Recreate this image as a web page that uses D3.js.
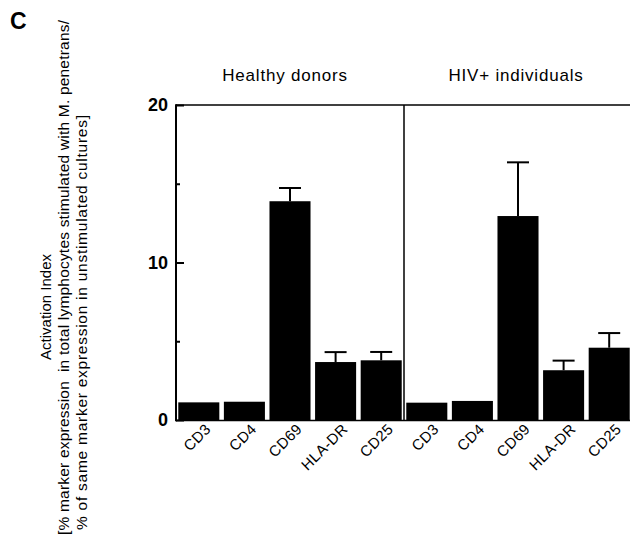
<!DOCTYPE html>
<html>
<head>
<meta charset="utf-8">
<script src="https://cdn.jsdelivr.net/npm/d3@7/dist/d3.min.js"></script>
<style>
  html, body { margin: 0; padding: 0; background: #fff; }
  svg { display: block; }
  text { font-family: "Liberation Sans", Arial, Helvetica, sans-serif; fill: #000; }
</style>
</head>
<body>
<svg id="chart" width="630" height="544"></svg>
<script>
// ---- data ----
const groups = ["Healthy donors", "HIV+ individuals"];
const markers = ["CD3", "CD4", "CD69", "HLA-DR", "CD25"];
const healthyValues = [1.12, 1.16, 13.89, 3.68, 3.79];
const healthyErrors = [0, 0, 0.84, 0.63, 0.53];
const hivValues = [1.10, 1.21, 12.95, 3.16, 4.59];
const hivErrors = [0, 0, 3.41, 0.61, 0.93];
const yTicksMajor = [0, 10, 20];
const yTicksMinor = [5, 15];
const yTitleLines = [
  "Activation Index",
  "[% marker expression  in total lymphocytes stimulated with M. penetrans/",
  " % of same marker expression in unstimulated cultures]"
];
const panelLetter = "C";

const seriesByGroup = [
  { group: groups[0], values: healthyValues, errors: healthyErrors },
  { group: groups[1], values: hivValues, errors: hivErrors }
];

// ---- layout ----
const svg = d3.select("#chart");
const plotLeft = 176, plotRight = 632, plotTop = 105, plotBottom = 420;

const y = d3.scaleLinear().domain([0, 20]).range([plotBottom, plotTop]);
const xGroup = d3.scaleBand().domain(groups).range([plotLeft, plotRight]).padding(0);
const xInner = d3.scaleBand().domain(markers).range([0, xGroup.bandwidth()])
  .paddingInner(0.1).paddingOuter(0.05);

// panel letter
svg.append("text").attr("x", 10).attr("y", 28.5)
  .attr("font-size", 23).attr("font-weight", "bold").text(panelLetter);

// group titles
svg.selectAll(".gtitle").data(groups).join("text")
  .attr("class", "gtitle")
  .attr("x", (d, i) => xGroup(d) + xGroup.bandwidth() / 2 - (i === 0 ? 5 : 2))
  .attr("y", 81)
  .attr("text-anchor", "middle")
  .attr("font-size", 17)
  .attr("letter-spacing", "0.8px")
  .text(d => d);

// y-axis title (rotated)
const titleG = svg.append("g");
const titleX = [51, 69, 87];
titleG.append("text")
  .attr("transform", `translate(${titleX[0]},360) rotate(-90)`)
  .attr("text-anchor", "start").attr("font-size", 15)
  .attr("textLength", 106).attr("lengthAdjust", "spacing")
  .text(yTitleLines[0]);
titleG.append("text")
  .attr("transform", `translate(${titleX[1]},535) rotate(-90)`)
  .attr("text-anchor", "start").attr("font-size", 15.5)
  .attr("textLength", 515).attr("lengthAdjust", "spacing")
  .attr("xml:space", "preserve").style("white-space", "pre").text(yTitleLines[1]);
titleG.append("text")
  .attr("transform", `translate(${titleX[2]},535) rotate(-90)`)
  .attr("text-anchor", "start").attr("font-size", 15.5)
  .attr("textLength", 420).attr("lengthAdjust", "spacing")
  .attr("xml:space", "preserve").style("white-space", "pre").text(yTitleLines[2]);

// bars
const gPanels = svg.selectAll(".panel").data(seriesByGroup).join("g")
  .attr("class", "panel")
  .attr("transform", d => `translate(${xGroup(d.group)},0)`);

gPanels.selectAll("rect").data(d => markers.map((m, i) => ({ m, v: d.values[i], e: d.errors[i] })))
  .join("rect")
  .attr("x", d => xInner(d.m))
  .attr("width", xInner.bandwidth())
  .attr("y", d => y(d.v))
  .attr("height", d => y(0) - y(d.v))
  .attr("fill", "#000");

// error bars (upper only)
const capW = 22;
const errs = gPanels.selectAll(".err").data(d => markers.map((m, i) => ({ m, v: d.values[i], e: d.errors[i] })).filter(d => d.e > 0))
  .join("g").attr("class", "err");
errs.append("line")
  .attr("x1", d => xInner(d.m) + xInner.bandwidth() / 2)
  .attr("x2", d => xInner(d.m) + xInner.bandwidth() / 2)
  .attr("y1", d => y(d.v)).attr("y2", d => y(d.v + d.e))
  .attr("stroke", "#000").attr("stroke-width", 2);
errs.append("line")
  .attr("x1", d => xInner(d.m) + xInner.bandwidth() / 2 - capW / 2)
  .attr("x2", d => xInner(d.m) + xInner.bandwidth() / 2 + capW / 2)
  .attr("y1", d => y(d.v + d.e)).attr("y2", d => y(d.v + d.e))
  .attr("stroke", "#000").attr("stroke-width", 2);

// x labels (rotated)
gPanels.selectAll(".xl").data(markers).join("text")
  .attr("class", "xl")
  .attr("transform", d => `translate(${xInner(d) + xInner.bandwidth() / 2 + 13},430) rotate(-45)`)
  .attr("text-anchor", "end")
  .attr("font-size", 15)
  .attr("letter-spacing", "0.4px")
  .text(d => d);

// frame lines
svg.append("line").attr("x1", plotLeft).attr("x2", 630).attr("y1", plotTop).attr("y2", plotTop)
  .attr("stroke", "#000").attr("stroke-width", 1.5);
svg.append("line").attr("x1", plotLeft).attr("x2", 630).attr("y1", plotBottom + 0.5).attr("y2", plotBottom + 0.5)
  .attr("stroke", "#000").attr("stroke-width", 1.5);
svg.append("line").attr("x1", xGroup(groups[1])).attr("x2", xGroup(groups[1]))
  .attr("y1", plotTop).attr("y2", plotBottom)
  .attr("stroke", "#000").attr("stroke-width", 1.5);

// y axis
const yAxis = d3.axisLeft(y).tickValues(yTicksMajor).tickSizeInner(-8).tickSizeOuter(0).tickPadding(8)
  .tickFormat(d3.format("d"));
const gy = svg.append("g").attr("transform", `translate(${plotLeft},0)`).call(yAxis);
gy.select(".domain").remove();
gy.selectAll(".tick line").attr("stroke", "#000").attr("stroke-width", 2);
gy.selectAll(".tick text").attr("font-size", 18).attr("font-weight", "bold")
  .attr("font-family", '"Liberation Sans", Arial, Helvetica, sans-serif').attr("fill", "#000");

const yMinor = d3.axisLeft(y).tickValues(yTicksMinor).tickSizeInner(-4).tickSizeOuter(0).tickFormat("");
const gym = svg.append("g").attr("transform", `translate(${plotLeft},0)`).call(yMinor);
gym.select(".domain").remove();
gym.selectAll(".tick line").attr("stroke", "#000").attr("stroke-width", 2);

svg.append("line").attr("x1", plotLeft).attr("x2", plotLeft).attr("y1", plotTop - 0.75).attr("y2", plotBottom + 1.25)
  .attr("stroke", "#000").attr("stroke-width", 2);
</script>
</body>
</html>
